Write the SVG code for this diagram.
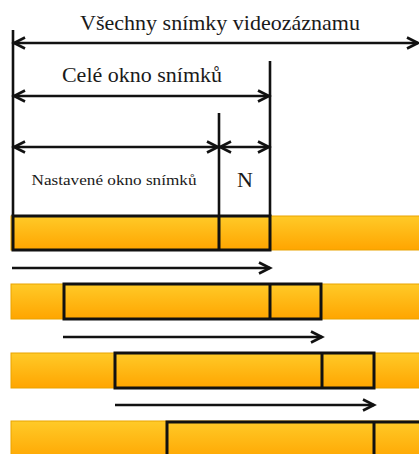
<svg xmlns="http://www.w3.org/2000/svg" width="419" height="454" viewBox="0 0 419 454">
<style>
  .t { font-family: "Liberation Serif", "Times New Roman", serif; fill: #1a1a1a; }
  .dim { stroke: #111; stroke-width: 2.6; fill: none; }
  .arr { stroke: #111; stroke-width: 2.6; fill: none; }
  .bar { fill: url(#g); stroke: #E9A300; stroke-width: 1; }
  .win { fill: none; stroke: #111; stroke-width: 3; }
</style>
<defs>
  <linearGradient id="g" x1="0" y1="0" x2="0" y2="1">
    <stop offset="0" stop-color="#FFCA28"/>
    <stop offset="1" stop-color="#FFA500"/>
  </linearGradient>
  <marker id="ah" markerUnits="userSpaceOnUse" markerWidth="16" markerHeight="14" refX="13" refY="7" orient="auto-start-reverse" viewBox="0 0 16 14">
    <path d="M2,1.5 L13,7 L2,12.5" fill="none" stroke="#111" stroke-width="2.6"/>
  </marker>
</defs>

<g id="bars">
  <rect class="bar" x="11" y="216" width="409" height="34"/>
  <rect class="bar" x="11" y="284" width="409" height="35"/>
  <rect class="bar" x="11" y="353" width="409" height="35"/>
  <rect class="bar" x="11" y="421" width="409" height="40"/>
</g>

<g id="windows">
  <rect class="win" x="13" y="216" width="257" height="34"/>
  <line class="win" x1="219" y1="216" x2="219" y2="250"/>
  <rect class="win" x="64" y="284" width="257" height="35"/>
  <line class="win" x1="270" y1="284" x2="270" y2="319"/>
  <rect class="win" x="115" y="353" width="259" height="35"/>
  <line class="win" x1="322" y1="353" x2="322" y2="388"/>
  <rect class="win" x="167" y="422" width="270" height="40"/>
  <line class="win" x1="374" y1="422" x2="374" y2="462"/>
</g>

<g id="connectors">
  <line class="dim" x1="13" y1="30" x2="13" y2="216"/>
  <line class="dim" x1="270" y1="61" x2="270" y2="216"/>
  <line class="dim" x1="219" y1="113" x2="219" y2="216"/>
  <line class="arr" x1="14" y1="43" x2="418" y2="43" marker-start="url(#ah)" marker-end="url(#ah)"/>
  <line class="arr" x1="14" y1="96" x2="269" y2="96" marker-start="url(#ah)" marker-end="url(#ah)"/>
  <line class="arr" x1="14" y1="147" x2="218" y2="147" marker-start="url(#ah)" marker-end="url(#ah)"/>
  <line class="arr" x1="220" y1="147" x2="269" y2="147" marker-start="url(#ah)" marker-end="url(#ah)"/>
  <line class="arr" x1="12" y1="268" x2="270" y2="268" marker-end="url(#ah)"/>
  <line class="arr" x1="63" y1="337" x2="322" y2="337" marker-end="url(#ah)"/>
  <line class="arr" x1="115" y1="405" x2="374" y2="405" marker-end="url(#ah)"/>
</g>

<g id="labels">
  <text class="t" x="220" y="30" font-size="22" text-anchor="middle">Všechny snímky videozáznamu</text>
  <text class="t" x="142" y="82" font-size="22" text-anchor="middle">Celé okno snímků</text>
  <text class="t" x="114" y="185" font-size="15" text-anchor="middle" textLength="165" lengthAdjust="spacingAndGlyphs">Nastavené okno snímků</text>
  <text class="t" x="245" y="187" font-size="22" text-anchor="middle">N</text>
</g>
</svg>
